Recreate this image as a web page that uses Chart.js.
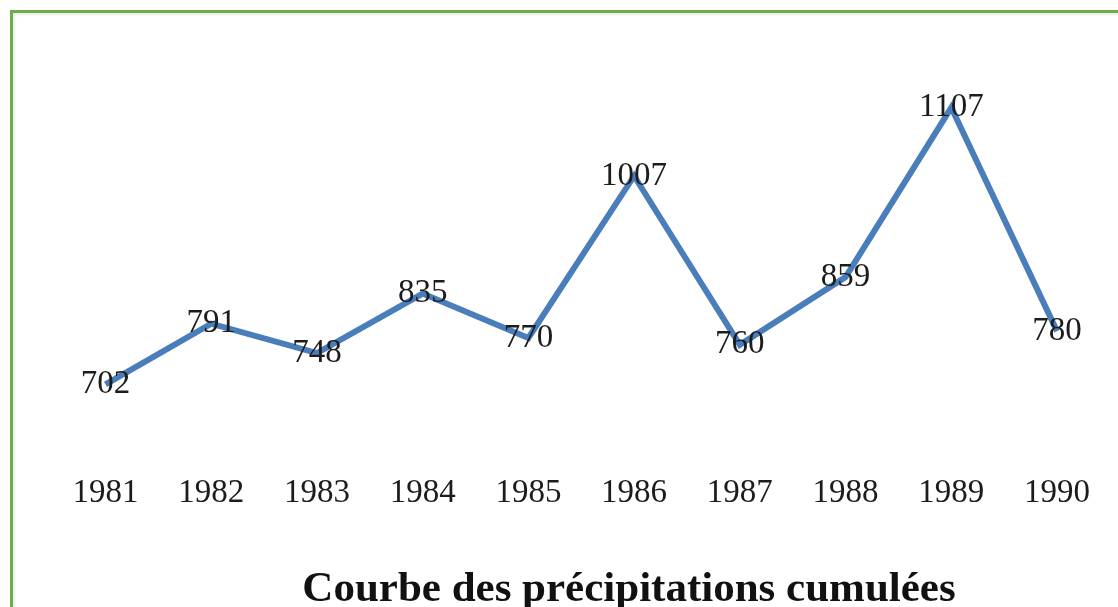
<!DOCTYPE html>
<html>
<head>
<meta charset="utf-8">
<script src="https://cdn.jsdelivr.net/npm/chart.js@4/dist/chart.umd.min.js"></script>
<style>
  html, body { margin: 0; padding: 0; background: #fff; overflow: hidden; width: 1118px; height: 607px; }
  #frame {
    position: absolute; left: 10px; top: 10px; width: 1300px; height: 800px;
    border-top: 3px solid #70ad47; border-left: 3px solid #70ad47;
    box-shadow: inset 2px 2px 2px rgba(0,0,0,0.08);
  }
  #chart { position: absolute; left: 0; top: 0; }
  #title {
    position: absolute; left: 629px; top: 565px; transform: translateX(-50%);
    font: bold 43px "Liberation Serif", "Times New Roman", serif; line-height: 43px;
    color: #111; white-space: nowrap;
  }
</style>
</head>
<body>
<div id="frame"></div>
<canvas id="chart" width="1118" height="607"></canvas>
<div id="title">Courbe des précipitations cumulées</div>
<script>
const years = ['1981', '1982', '1983', '1984', '1985', '1986', '1987', '1988', '1989', '1990'];
const precip = [702, 791, 748, 835, 770, 1007, 760, 859, 1107, 780];

// value labels drawn on top of each point
const pointLabels = {
  id: 'pointLabels',
  afterDatasetsDraw(chart) {
    const ctx = chart.ctx;
    const meta = chart.getDatasetMeta(0);
    ctx.save();
    ctx.font = '33px "Liberation Serif", "Times New Roman", serif';
    ctx.fillStyle = '#1c1c1c';
    ctx.textAlign = 'center';
    ctx.textBaseline = 'middle';
    meta.data.forEach((pt, i) => {
      ctx.fillText(String(precip[i]), pt.x, pt.y);
    });
    ctx.restore();
  }
};

const diagram = document.getElementById('chart').getContext('2d');
new Chart(diagram, {
  type: 'line',
  data: {
    labels: years,
    datasets: [{
      data: precip,
      borderColor: '#4a7ebb',
      borderWidth: 6,
      pointRadius: 0,
      tension: 0,
      fill: false
    }]
  },
  options: {
    responsive: false,
    animation: false,
    layout: { padding: { top: 44, bottom: 74.4, left: 105.5, right: 61 } },
    plugins: {
      legend: { display: false },
      tooltip: { enabled: false },
      title: { display: false }
    },
    scales: {
      x: {
        grid: { display: false, drawTicks: false },
        border: { display: false },
        ticks: {
          padding: 19.4,
          color: '#1c1c1c',
          maxRotation: 0,
          autoSkip: false,
          font: { family: '"Liberation Serif", "Times New Roman", serif', size: 33 }
        }
      },
      y: {
        display: false,
        min: 600,
        max: 1200
      }
    }
  },
  plugins: [pointLabels]
});
</script>
</body>
</html>
